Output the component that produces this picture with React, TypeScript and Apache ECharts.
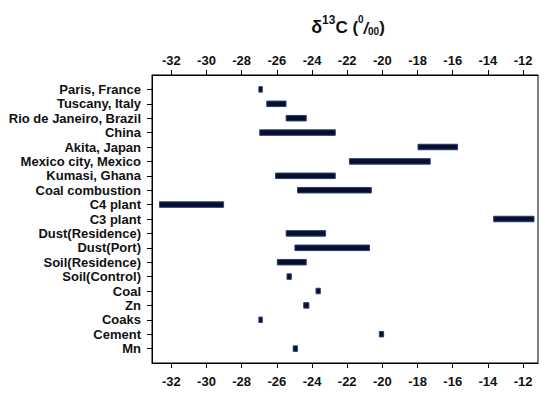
import React, { useEffect, useRef } from "react";
import * as echarts from "echarts";

const categories = [
  "Paris, France",
  "Tuscany, Italy",
  "Rio de Janeiro, Brazil",
  "China",
  "Akita, Japan",
  "Mexico city, Mexico",
  "Kumasi, Ghana",
  "Coal combustion",
  "C4 plant",
  "C3 plant",
  "Dust(Residence)",
  "Dust(Port)",
  "Soil(Residence)",
  "Soil(Control)",
  "Coal",
  "Zn",
  "Coaks",
  "Cement",
  "Mn",
];

const rangeStart = [
  -27.05, -26.6, -25.5, -27.0, -18.0, -21.9, -26.1, -24.85, -32.7, -13.7,
  -25.5, -25.0, -26.0, -25.45, -23.8, -24.5, -27.05, -20.2, -25.1,
];
const rangeEnd = [
  -26.8, -25.45, -24.3, -22.65, -15.7, -17.25, -22.65, -20.6, -29.0, -11.35,
  -23.2, -20.7, -24.3, -25.15, -23.5, -24.15, -26.8, -19.9, -24.8,
];

const xTicks = [-32, -30, -28, -26, -24, -22, -20, -18, -16, -14, -12];

const FONT = "'Liberation Sans', Arial, sans-serif";

export default function App() {
  const ref = useRef<HTMLDivElement>(null);

  useEffect(() => {
    document.body.style.margin = "0";
    if (!ref.current) return;
    const chart = echarts.init(ref.current, null, { renderer: "svg" });

    const data = categories.map((c, i) => [rangeStart[i], rangeEnd[i], i]);
    const yIdx = categories.map((_, i) => i);

    const xAxisCommon = {
      type: "value" as const,
      min: -33.1,
      max: -11.15,
      splitLine: { show: false },
      axisLine: { show: true, onZero: false, lineStyle: { color: "#000", width: 1 } },
      axisTick: {
        show: true,
        length: 5,
        customValues: xTicks,
        lineStyle: { color: "#000" },
      },
      axisLabel: {
        customValues: xTicks,
        color: "#111",
        fontFamily: FONT,
        fontWeight: "bold" as const,
        fontSize: 13,
      },
    };

    chart.setOption({
      animation: false,
      backgroundColor: "#fff",
      title: {
        text: "{d|δ}{sup|13}{b|C (}{sup2|0}{sl|/}{sub|00}{b|)}",
        left: 343,
        top: 9,
        textAlign: "center",
        textStyle: {
          rich: {
            d: { fontFamily: FONT, fontSize: 18, color: "#111", lineHeight: 22, verticalAlign: "bottom" },
            b: { fontFamily: FONT, fontSize: 17, fontWeight: "bold", color: "#111", lineHeight: 22, verticalAlign: "bottom" },
            sup: { fontFamily: FONT, fontSize: 12, fontWeight: "bold", color: "#111", lineHeight: 12, verticalAlign: "top" },
            sup2: { fontFamily: FONT, fontSize: 10, fontWeight: "bold", color: "#111", lineHeight: 12, verticalAlign: "top" },
            sl: { fontFamily: FONT, fontSize: 16, fontStyle: "italic", fontWeight: "bold", color: "#111", lineHeight: 20, verticalAlign: "bottom" },
            sub: { fontFamily: FONT, fontSize: 10, fontWeight: "bold", color: "#111", lineHeight: 8, verticalAlign: "bottom" },
          },
        },
      },
      grid: {
        left: 152,
        top: 75,
        right: 12,
        bottom: 32,
        show: true,
        borderColor: "#000",
        borderWidth: 1,
        backgroundColor: "transparent",
      },
      xAxis: [
        { ...xAxisCommon, position: "top", axisLabel: { ...xAxisCommon.axisLabel, margin: 8 } },
        { ...xAxisCommon, position: "bottom", axisLabel: { ...xAxisCommon.axisLabel, margin: 12 } },
      ],
      yAxis: {
        type: "value",
        min: -1,
        max: 19,
        inverse: true,
        splitLine: { show: false },
        axisLine: { show: true, onZero: false, lineStyle: { color: "#000", width: 1 } },
        axisTick: { show: true, length: 5, customValues: yIdx, lineStyle: { color: "#000" } },
        axisLabel: {
          customValues: yIdx,
          formatter: (v: number) => categories[Math.round(v)] ?? "",
          color: "#111",
          fontFamily: FONT,
          fontWeight: "bold",
          fontSize: 13,
          margin: 11,
        },
      },
      series: [
        {
          type: "custom",
          xAxisIndex: 0,
          yAxisIndex: 0,
          data,
          encode: { x: [0, 1], y: 2 },
          renderItem: (params: any, api: any) => {
            const s = api.coord([api.value(0), api.value(2)]);
            const e = api.coord([api.value(1), api.value(2)]);
            const h = 5.5;
            const x0 = Math.min(s[0], e[0]);
            const w = Math.abs(e[0] - s[0]);
            return {
              type: "rect",
              shape: { x: x0 + 0.5, y: s[1] - h / 2, width: Math.max(w - 1, 3), height: h },
              style: { fill: "#0a0e2a", stroke: "#233f7c", lineWidth: 1 },
            };
          },
        },
      ],
    });

    return () => chart.dispose();
  }, []);

  return <div ref={ref} style={{ width: 550, height: 395 }} />;
}
